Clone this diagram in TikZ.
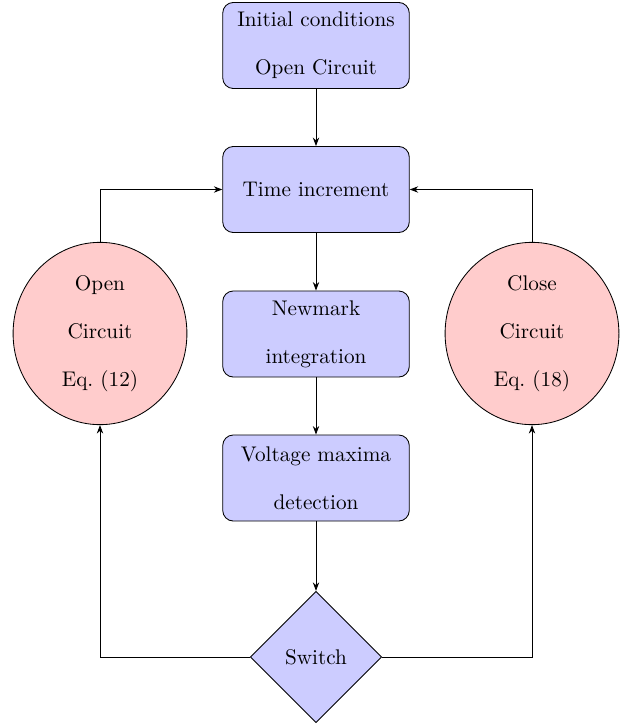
\documentclass[tikz,border=0pt]{standalone}
\usepackage{amsmath,amssymb}
\usepackage{xcolor}
\usepackage{tikz}
\usetikzlibrary{arrows.meta,positioning,shapes.geometric,calc}
\definecolor{stepblue}{HTML}{CCCCFF}
\definecolor{statered}{HTML}{FFCCCC}

\begin{document}
\begin{tikzpicture}[x=0.4717pt,y=-0.4717pt,
  font=\fontsize{10}{22.6}\selectfont,
  procbox/.style={rectangle,rounded corners=5pt,draw=black,fill=stepblue,minimum width=88pt,minimum height=40.6pt,align=center,inner sep=2pt},
  statebox/.style={ellipse,draw=black,fill=statered,minimum width=82pt,minimum height=86pt,align=center,inner sep=0},
  switchbox/.style={diamond,draw=black,fill=stepblue,minimum size=62pt,inner sep=0},
  flow/.style={-{Stealth[length=4pt,width=3pt]},black}]
  \useasboundingbox (0,0) rectangle (626,723);
  \foreach \name/\yy/\txt in {%
    init/45.5/{Initial conditions\\Open Circuit}, tinc/189.5/{Time increment},
    newmark/334/{Newmark\\integration}, vmax/478/{Voltage maxima\\detection}}{
      \node[procbox] (\name) at (316,\yy) {\txt};
  }
  \node[switchbox] (switch) at (316,657) {Switch};
  \node[statebox] (open) at (100,333.5) {Open\\Circuit\\Eq.~(12)};
  \node[statebox] (close) at (532,333.5) {Close\\Circuit\\Eq.~(18)};
  \foreach \a/\b in {init/tinc,tinc/newmark,newmark/vmax,vmax/switch}{
      \draw[flow] (\a)--(\b);
  }
  \draw[flow] (open.north) |- (tinc.west);
  \draw[flow] (close.north) |- (tinc.east);
  \draw[flow] (switch.west) -| (open.south);
  \draw[flow] (switch.east) -| (close.south);
\end{tikzpicture}
\end{document}
